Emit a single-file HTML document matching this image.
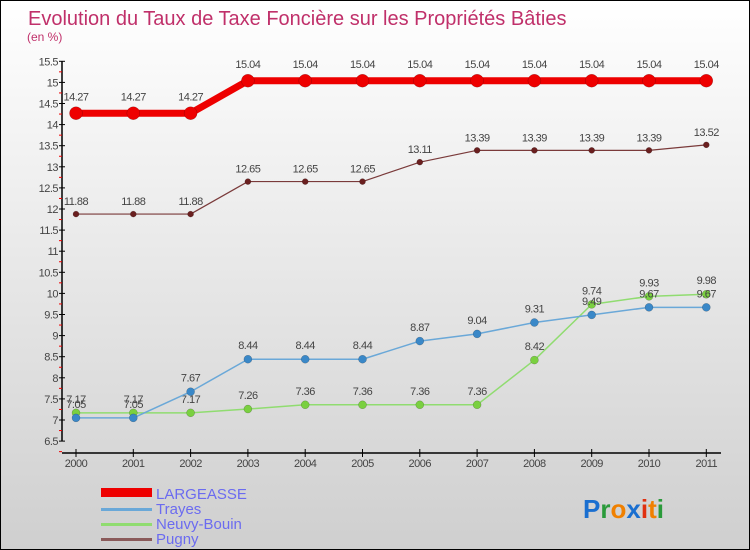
<!DOCTYPE html>
<html><head><meta charset="utf-8"><style>
body{margin:0}
#wrap{width:748px;height:548px;border:1px solid #000;background:linear-gradient(#ffffff,#cfcfcf);position:relative;overflow:hidden;font-family:"Liberation Sans",sans-serif}
</style></head><body>
<div id="wrap">
<svg id="svg" width="748" height="548">
<text x="27" y="24" font-size="20" fill="#c0306a">Evolution du Taux de Taxe Foncière sur les Propriétés Bâties</text>
<text x="26" y="40" font-size="12" fill="#c0306a">(en %)</text>
<g id="axes"></g><g id="series"></g>
<g>
<rect x="100" y="487" width="51" height="9" fill="#e00"/>
<text x="155" y="498" font-size="15" fill="#6b6bf0">LARGEASSE</text>
<rect x="100" y="507" width="51" height="3" fill="#6aa8d8"/>
<text x="155" y="513" font-size="15" fill="#6b6bf0">Trayes</text>
<rect x="100" y="522" width="51" height="3" fill="#90dc70"/>
<text x="155" y="528" font-size="15" fill="#6b6bf0">Neuvy-Bouin</text>
<rect x="100" y="537" width="51" height="3" fill="#8a5a5a"/>
<text x="155" y="543" font-size="15" fill="#6b6bf0">Pugny</text>
</g>
<text x="582" y="517" font-size="26" font-weight="bold"><tspan fill="#1a6fd0">P</tspan><tspan fill="#2a9a3a">r</tspan><tspan fill="#f08000">o</tspan><tspan fill="#1a6fd0">x</tspan><tspan fill="#e03010">i</tspan><tspan fill="#f08000">t</tspan><tspan fill="#2a9a3a">i</tspan></text>
</svg></div>
<script>
const years=["2000","2001","2002","2003","2004","2005","2006","2007","2008","2009","2010","2011"];
const largeasse=[14.27,14.27,14.27,15.04,15.04,15.04,15.04,15.04,15.04,15.04,15.04,15.04];
const trayes=[7.05,7.05,7.67,8.44,8.44,8.44,8.87,9.04,9.31,9.49,9.67,9.67];
const neuvy=[7.17,7.17,7.17,7.26,7.36,7.36,7.36,7.36,8.42,9.74,9.93,9.98];
const pugny=[11.88,11.88,11.88,12.65,12.65,12.65,13.11,13.39,13.39,13.39,13.39,13.52];
const yTicks=["6.5","7","7.5","8","8.5","9","9.5","10","10.5","11","11.5","12","12.5","13","13.5","14","14.5","15","15.5"];
const NS="http://www.w3.org/2000/svg";
const X=i=>75+i*57.3, Y=v=>419-(v-7)*42.2;
function mk(t,a,p){const e=document.createElementNS(NS,t);for(const k in a)e.setAttribute(k,a[k]);p.appendChild(e);return e;}
const ax=document.getElementById('axes'), sg=document.getElementById('series');
let e=mk('line',{x1:61,y1:Y(15.5),x2:61,y2:Y(6.5),stroke:'#000','stroke-width':1.5},ax);

yTicks.forEach(t=>{const v=parseFloat(t),y=Y(v);
 mk('line',{x1:58,y1:y,x2:64,y2:y,stroke:'#000'},ax);
 mk('line',{x1:58,y1:y+10.55,x2:61,y2:y+10.55,stroke:'#e00'},ax);
 const tx=mk('text',{x:57,y:y+4,'font-size':11,'text-anchor':'end',fill:'#444','letter-spacing':'-0.5'},ax);tx.textContent=t;
 });
e=mk('line',{x1:61,y1:452,x2:720,y2:452,stroke:'#000','stroke-width':1.5},ax);

years.forEach((t,i)=>{mk('line',{x1:X(i),y1:448,x2:X(i),y2:456,stroke:'#000'},ax);
 const tx=mk('text',{x:X(i),y:466,'font-size':11,'text-anchor':'middle',fill:'#444','letter-spacing':'-0.5'},ax);tx.textContent=t;
 });
function series(d,name,col,w,r,pt){
 const g=mk('g',{},sg);
 mk('polyline',{points:d.map((v,i)=>X(i)+','+Y(v)).join(' '),fill:'none',stroke:col,'stroke-width':w,'stroke-linejoin':'round'},g);
 d.forEach((v,i)=>{const c=mk('circle',{cx:X(i),cy:Y(v),r:r,fill:pt,stroke:'rgba(0,0,0,0.3)','stroke-width':0.5},g);
  
  const tx=mk('text',{x:X(i),y:Y(v)-(r+6),'font-size':11,'text-anchor':'middle',fill:'#444','letter-spacing':'-0.5'},g);tx.textContent=v.toFixed(2);
  });
}
series(pugny,'pugny','#7a3a3a',1.2,3,'#6a1f1f');
series(neuvy,'neuvy-bouin','#90dc70',1.5,4,'#7ad040');
series(trayes,'trayes','#6aa8d8',1.5,4,'#3a88c8');
series(largeasse,'largeasse','#e00',7,6.5,'#e00');
</script></body></html>
